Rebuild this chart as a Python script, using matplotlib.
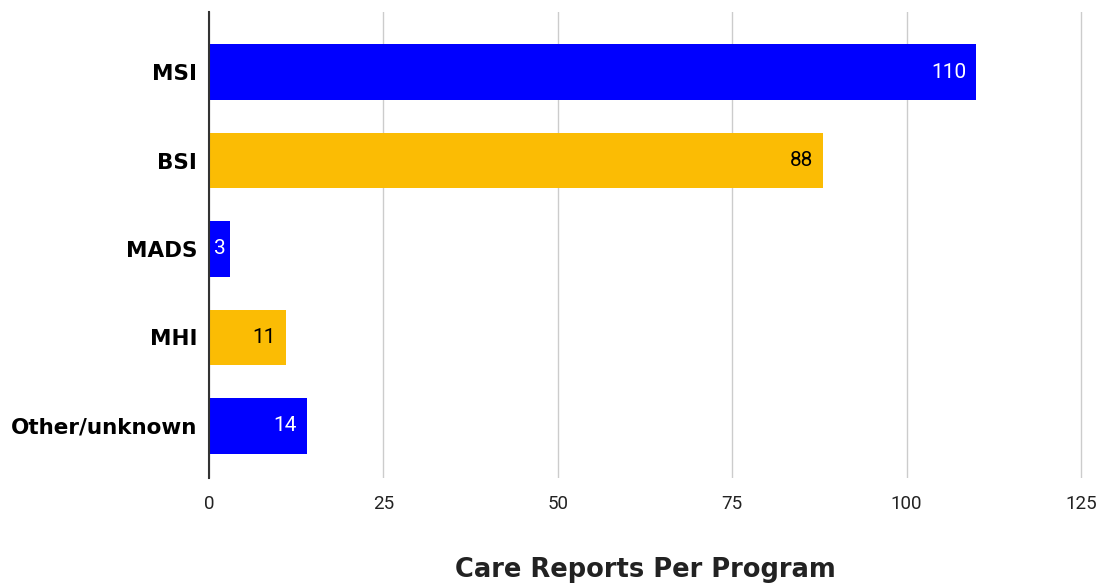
import matplotlib
matplotlib.use("Agg")
import matplotlib.pyplot as plt
from matplotlib.transforms import offset_copy

categories = ["MSI", "BSI", "MADS", "MHI", "Other/unknown"]
values = [110, 88, 3, 11, 14]
bar_colors = ["#0000FF", "#FBBC04", "#0000FF", "#FBBC04", "#0000FF"]
label_colors = ["white", "black", "white", "black", "white"]
xticks = [0, 25, 50, 75, 100, 125]
title = "Care Reports Per Program"

fig = plt.figure(figsize=(11.04, 5.84), dpi=100)
ax = fig.add_axes([209/1104, 1-478/584, (1083-209)/1104, (478-12)/584])

y = list(range(len(categories)))
ax.barh(y, values, height=0.63, color=bar_colors, zorder=3)
ax.set_ylim(4.59, -0.68)
ax.set_xlim(0, 125 * 874 / 872)
ax.set_xticks(xticks)
ax.set_xticklabels([str(t) for t in xticks], fontsize=13.5, family="Roboto", color="#222222")
ax.set_yticks(y)
ax.set_yticklabels(categories, fontsize=15.5, fontweight="heavy", family="DejaVu Sans")
ax.tick_params(axis="both", length=0)
ax.tick_params(axis="x", pad=12)
ax.tick_params(axis="y", pad=8.5)
ax.grid(axis="x", color="#cccccc", lw=1, zorder=0)
for s in ["top", "right", "bottom"]:
    ax.spines[s].set_visible(False)
ax.spines["left"].set_color("#333333")
ax.spines["left"].set_linewidth(1.5)
ax.spines["left"].set_zorder(4)

trans = offset_copy(ax.transData, fig=fig, x=-7, y=0, units="points")
for yi, v, c in zip(y, values, label_colors):
    if v < 5:
        ax.text(v / 2, yi, str(v), ha="center", va="center", fontsize=15,
                family="Roboto", color=c, zorder=5)
    else:
        ax.text(v, yi, str(v), ha="right", va="center", fontsize=15,
                family="Roboto", color=c, zorder=5, transform=trans)

fig.text((209+1081)/2/1104, 1-570/584, title, ha="center", va="center",
         fontsize=18.5, fontweight="heavy", family="DejaVu Sans", color="#222222")

fig.savefig("out.png", dpi=100)
